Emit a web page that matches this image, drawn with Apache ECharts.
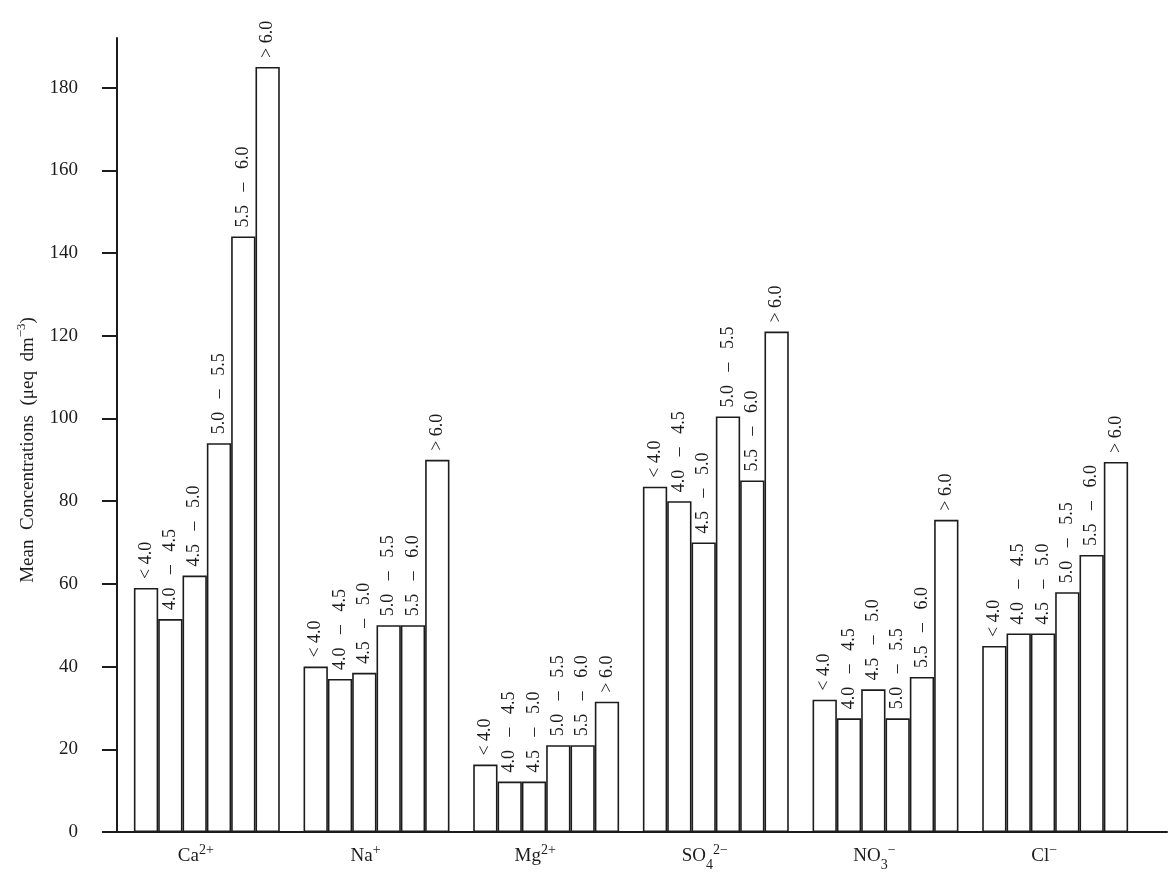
<!DOCTYPE html>
<html><head><meta charset="utf-8">
<script src="https://cdn.jsdelivr.net/npm/echarts@6/dist/echarts.min.js"></script>
<style>html,body{margin:0;padding:0;background:#fff}#c{width:1169px;height:872px}</style>
</head><body><div id="c"></div>
<script>
// Ions (categories) and their axis labels (with super/subscripts)
const ions = ['Ca2+', 'Na+', 'Mg2+', 'SO42-', 'NO3-', 'Cl-'];
const ionLabels = ['{b|Ca}{sup|2+}', '{b|Na}{sup|+}', '{b|Mg}{sup|2+}', '{b|SO}{sub|4}{sup|2\u2212}', '{b|NO}{sub|3}{sup|\u2212}', '{b|Cl}{sup|\u2212}'];
// pH classes (series)
const phClasses = ['< 4.0', '4.0 \u2013 4.5', '4.5 \u2013 5.0', '5.0 \u2013 5.5', '5.5 \u2013 6.0', '> 6.0'];
// Mean concentrations (µeq dm-3) per pH class, in ion order
const phBelow40 = [59, 40, 16.3, 83.5, 32, 45];
const ph40to45 = [51.5, 37, 12.2, 80, 27.5, 48];
const ph45to50 = [62, 38.5, 12.2, 70, 34.5, 48];
const ph50to55 = [94, 50, 21, 100.5, 27.5, 58];
const ph55to60 = [144, 50, 21, 85, 37.5, 67];
const phAbove60 = [185, 90, 31.5, 121, 75.5, 89.5];
const yTicks = [0, 20, 40, 60, 80, 100, 120, 140, 160, 180];

const seriesValues = [phBelow40, ph40to45, ph45to50, ph50to55, ph55to60, phAbove60];
const SERIF = '"Liberation Serif", "DejaVu Serif", serif';
const INK = '#1c1c1c';

const chart = echarts.init(document.getElementById('c'), null, {renderer: 'canvas'});
chart.setOption({
  backgroundColor: '#ffffff',
  animation: false,
  grid: [
    {left: 122, right: 29, top: 38, bottom: 40},
    {left: 117, right: 2, top: 38, bottom: 40}
  ],
  xAxis: [
    {
      type: 'category', gridIndex: 0, data: ions,
      axisLine: {show: false}, axisTick: {show: false},
      axisLabel: {
        margin: 11, padding: [0, 22, 0, 0],
        formatter: (v, i) => ionLabels[i],
        rich: {
          b: {fontFamily: SERIF, fontSize: 19, color: INK, verticalAlign: 'bottom'},
          sup: {fontFamily: SERIF, fontSize: 14, color: INK, verticalAlign: 'bottom', padding: [0, 0, 9, 0]},
          sub: {fontFamily: SERIF, fontSize: 14, color: INK, verticalAlign: 'bottom', padding: [0, 0, -6, 0]}
        }
      }
    },
    {
      type: 'value', gridIndex: 1, min: 0, max: 1,
      axisLine: {show: true, onZero: false, lineStyle: {color: INK, width: 2}},
      axisTick: {show: false}, axisLabel: {show: false}, splitLine: {show: false}
    }
  ],
  yAxis: [
    {
      type: 'value', gridIndex: 0, min: 0, max: 192, offset: 5,
      axisLine: {show: true, lineStyle: {color: INK, width: 2}},
      axisTick: {show: true, length: 15, customValues: yTicks, lineStyle: {color: INK, width: 2}},
      axisLabel: {customValues: yTicks, margin: 39, fontFamily: SERIF, fontSize: 19, color: INK},
      splitLine: {show: false},
      name: '{b|Mean  Concentrations  (\u03bceq  dm}{sup|\u22123}{b|)}',
      nameLocation: 'middle', nameGap: 79, nameRotate: 90,
      nameTextStyle: {
        padding: [0, 30, 0, 0],
        rich: {
          b: {fontFamily: SERIF, fontSize: 19, color: INK, verticalAlign: 'bottom'},
          sup: {fontFamily: SERIF, fontSize: 13, color: INK, verticalAlign: 'bottom', padding: [0, 0, 10, 0]}
        }
      }
    },
    {type: 'value', gridIndex: 1, show: false, min: 0, max: 1}
  ],
  series: seriesValues.map((vals, k) => ({
    type: 'bar', name: phClasses[k], data: vals,
    xAxisIndex: 0, yAxisIndex: 0,
    barGap: '0%', barCategoryGap: '14%',
    itemStyle: {color: '#ffffff', borderColor: INK, borderWidth: 1.6},
    label: {
      show: true, position: 'top', rotate: 90, align: 'left', verticalAlign: 'middle',
      distance: 9, fontFamily: SERIF, fontSize: 18, color: INK,
      formatter: () => phClasses[k].replace(' \u2013 ', '\u2002 \u2013 \u2002')
    }
  }))
});
</script></body></html>
